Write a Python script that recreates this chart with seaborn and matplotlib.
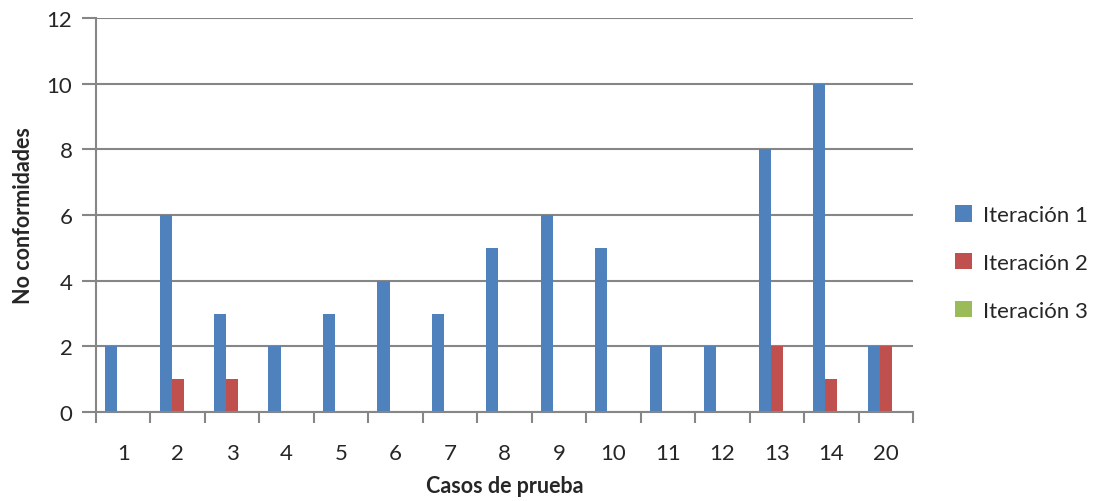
import matplotlib
matplotlib.use("Agg")
import matplotlib.pyplot as plt
import seaborn as sns
import pandas as pd
import numpy as np

categories = ["1", "2", "3", "4", "5", "6", "7", "8", "9", "10", "11", "12", "13", "14", "20"]
iter1 = [2, 6, 3, 2, 3, 4, 3, 5, 6, 5, 2, 2, 8, 10, 2]
iter2 = [0, 1, 1, 0, 0, 0, 0, 0, 0, 0, 0, 0, 2, 1, 2]
iter3 = [0, 0, 0, 0, 0, 0, 0, 0, 0, 0, 0, 0, 0, 0, 0]
series_names = ["Iteración 1", "Iteración 2", "Iteración 3"]
colors = ["#4F81BD", "#C0504D", "#9BBB59"]
y_ticks = [0, 2, 4, 6, 8, 10, 12]

rows = []
for name, vals in zip(series_names, [iter1, iter2, iter3]):
    for c, v in zip(categories, vals):
        rows.append({"Caso": c, "Valor": v, "Serie": name})
df = pd.DataFrame(rows)

sns.set_style("white")
plt.rcParams["font.family"] = ["Lato", "DejaVu Sans"]

fig = plt.figure(figsize=(11.04, 5.02), dpi=100)
ax = fig.add_axes([96 / 1104, 89 / 502, (913 - 96) / 1104, (413 - 19) / 502])

sns.barplot(data=df, x="Caso", y="Valor", hue="Serie", order=categories,
            hue_order=series_names, palette=colors, width=0.667,
            saturation=1, ax=ax, legend=True, linewidth=0)

grid_color = "#868686"
ax.set_ylim(0, 12)
ax.set_xlim(-0.5, len(categories) - 0.5)
ax.set_yticks(y_ticks)
ax.yaxis.grid(True, color=grid_color, linewidth=1.5)
ax.set_axisbelow(True)
for s in ["top", "right"]:
    ax.spines[s].set_visible(False)
for s in ["left", "bottom"]:
    ax.spines[s].set_color(grid_color)
    ax.spines[s].set_linewidth(1.5)

ax.tick_params(axis="y", direction="out", length=10, width=1.5, color=grid_color,
               labelsize=16, pad=7, left=True)
ax.tick_params(axis="x", which="major", length=0, labelsize=16, pad=22)
ax.set_xticks(np.arange(-0.5, len(categories), 1.0), minor=True)
ax.tick_params(axis="x", which="minor", direction="out", length=8, width=1.5,
               color=grid_color, bottom=True)

ax.set_xlabel("Casos de prueba", fontsize=15.5, fontweight="bold", labelpad=9)
ax.set_ylabel("No conformidades", fontsize=15.5, fontweight="bold", labelpad=9)

leg = ax.legend(loc="center left", bbox_to_anchor=((935 - 96) / 817, 0.378),
                frameon=False, fontsize=16, handlelength=0.75, handleheight=0.75,
                labelspacing=1.25, handletextpad=0.5)

fig.savefig("out.png", dpi=100)
